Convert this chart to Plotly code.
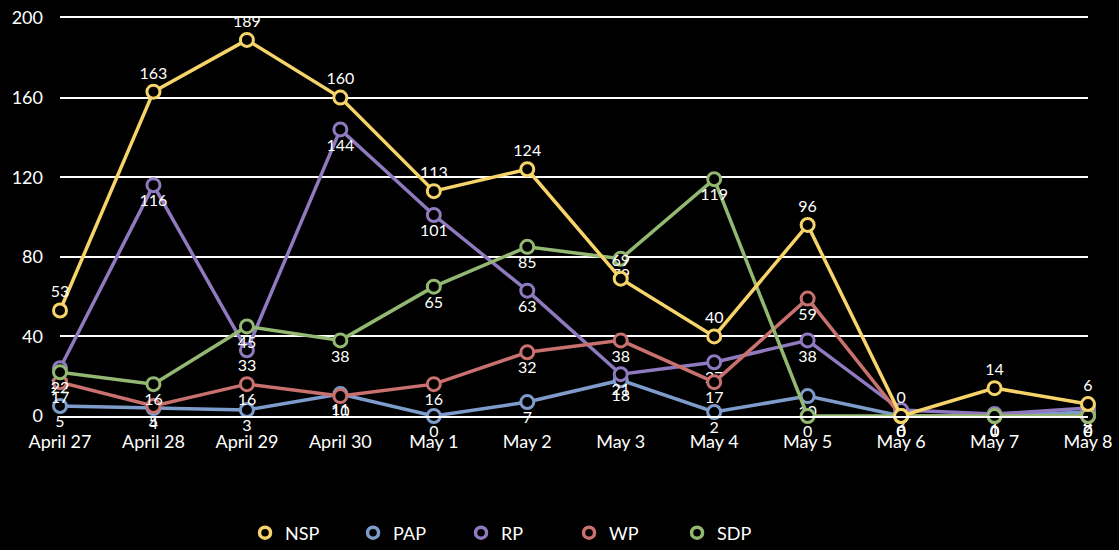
import plotly.graph_objects as go

dates = ["April 27", "April 28", "April 29", "April 30", "May 1", "May 2",
         "May 3", "May 4", "May 5", "May 6", "May 7", "May 8"]

nsp = [53, 163, 189, 160, 113, 124, 69, 40, 96, 0, 14, 6]
pap = [5, 4, 3, 11, 0, 7, 18, 2, 10, 0, 0, 2]
rp = [24, 116, 33, 144, 101, 63, 21, 27, 38, 3, 1, 4]
wp = [17, 5, 16, 10, 16, 32, 38, 17, 59, 0, 0, 0]
sdp = [22, 16, 45, 38, 65, 85, 79, 119, 0, 0, 0, 0]

series = [
    ("NSP", nsp, "#F7D46A", "top center"),
    ("PAP", pap, "#7E9CCB", "bottom center"),
    ("RP", rp, "#8F79BF", "bottom center"),
    ("WP", wp, "#C9716E", "bottom center"),
    ("SDP", sdp, "#93B872", "bottom center"),
]

FONT = "Lato"

fig = go.Figure()
# draw NSP last so it sits on top
order = [1, 2, 3, 4, 0]
for i in order:
    name, vals, color, pos = series[i]
    fig.add_trace(go.Scatter(
        x=dates, y=vals, name=name, mode="lines+markers+text",
        line=dict(color=color, width=3.5),
        marker=dict(symbol="circle", size=13, color="black",
                    line=dict(color=color, width=3)),
        text=[str(v) for v in vals], textposition=pos,
        textfont=dict(color="white", size=16, family=FONT),
        cliponaxis=False, showlegend=False,
    ))

# legend entries (marker only, as in the reference)
for i, (name, vals, color, pos) in enumerate(series):
    fig.add_trace(go.Scatter(
        x=[None], y=[None], name=name, mode="markers",
        marker=dict(symbol="circle", size=11, color="black",
                    line=dict(color=color, width=3.5)),
        legendrank=i + 1,
    ))

fig.update_layout(
    width=1119, height=550,
    paper_bgcolor="black", plot_bgcolor="black",
    margin=dict(l=60, r=31, t=18, b=134, autoexpand=False),
    font=dict(family=FONT, color="white", size=18),
    showlegend=True,
    legend=dict(orientation="h", x=0.18, xanchor="left", y=-0.294,
                yanchor="middle", font=dict(size=18, color="white"),
                entrywidth=63, traceorder="normal", itemwidth=30),
)
fig.update_xaxes(
    type="category", range=[0, 11], showgrid=False, zeroline=False,
    showline=True, mirror=True, linecolor="white", linewidth=2,
    ticks="", tickfont=dict(size=18, color="white"),
    ticklabelstandoff=8,
)
fig.update_yaxes(
    range=[0, 200], tickvals=[0, 40, 80, 120, 160, 200],
    showgrid=True, gridcolor="white", gridwidth=2, zeroline=False,
    showline=False, ticks="", tickfont=dict(size=18, color="white"),
    ticklabelstandoff=16,
)

fig.write_html("out.html", config={"displayModeBar": False},
               post_script="document.body.style.margin='0';")
